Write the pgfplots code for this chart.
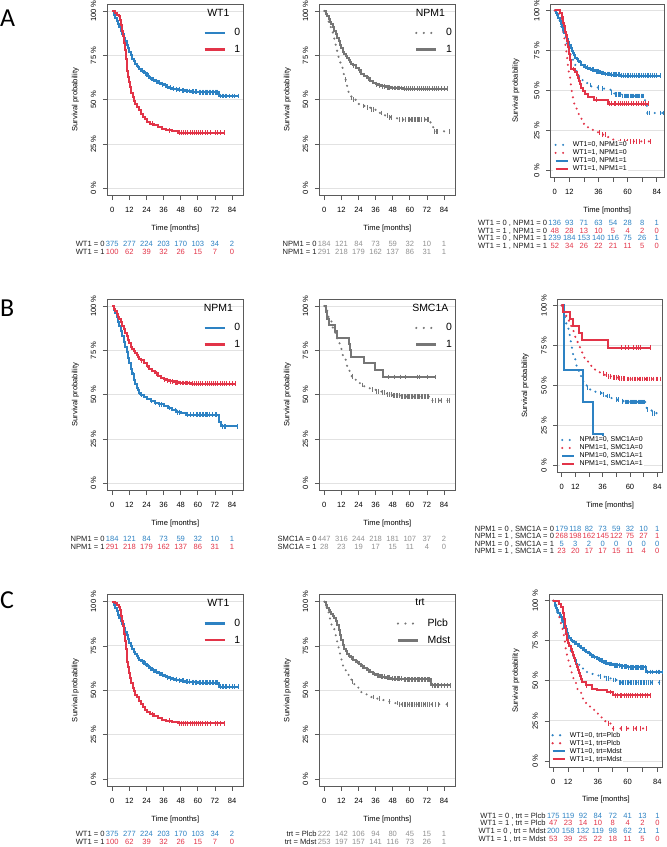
\documentclass[border=0pt]{standalone}
\usepackage{pgfplots}
\pgfplotsset{compat=1.18}
\usepackage{pgfplotstable}
\usepackage{fontspec}
\setmainfont{Liberation Sans}
\newfontfamily\letterfont{Carlito}
\definecolor{kmblue}{RGB}{45,130,195}
\definecolor{kmred}{RGB}{226,52,72}
\definecolor{kmgray}{RGB}{118,118,118}
\definecolor{rgray}{RGB}{145,145,145}
\definecolor{axc}{RGB}{90,90,90}
\definecolor{gridc}{RGB}{226,226,226}
\definecolor{txt}{RGB}{30,30,30}
\newcommand{\smallf}{\fontsize{7.6}{9}\selectfont}
\newcommand{\legf}{\fontsize{10.5}{12}\selectfont}
\newcommand{\tinyf}{\fontsize{7}{8}\selectfont}
\newcommand{\riskrow}[6]{%
  \node[anchor=mid east, inner sep=0pt, font=\smallf, text=txt] at ({#1-7.5},{-#3}) {#4};
  \foreach \v [count=\i from 0] in {#6} {\node[anchor=mid, inner sep=0pt, font=\smallf, text=#5] at ({#1+#2*\i},{-#3}) {\v};}
}
\tikzset{
  solidl/.style={line width=2.5bp},
  dotl/.style={line width=2.3bp, dash pattern=on 0pt off 7.5bp, line cap=round},
}
\pgfplotsset{
  kmbase/.style={
    scale only axis, ymin=-0.04, ymax=1.04,
    axis line style={draw=axc, line width=0.75bp},
    xtick={0,12,24,36,48,60,72,84},
    ytick={0,0.25,0.5,0.75,1},
    yticklabels={0 \%,25 \%,50 \%,75 \%,100 \%},
    tick align=outside, xtick pos=left, ytick pos=left,
    major tick length=4.5bp,
    tick style={draw=axc, line width=0.75bp},
    ymajorgrids, grid style={draw=gridc, line width=1bp},
    tick label style={font=\smallf},
    yticklabel style={rotate=90, anchor=south},
    yticklabel shift=3bp, xticklabel shift=4bp,
    xlabel={Time [months]}, ylabel={Survival probability},
    label style={font=\smallf},
    xlabel style={at={(axis description cs:0.5,0)}, anchor=center, yshift=-33.5bp},
    ylabel style={anchor=center},
    anchor=north west,
  },
  kmleft/.style={kmbase, width=136bp, height=191.5bp, xmin=-3.5, xmax=91.9,
    xticklabels={0,12,24,36,48,60,72,84},
    ylabel style={at={(axis description cs:-0.235,0.5)}}},
  kmright/.style={kmbase, height=173.1bp, xticklabels={0,12,,36,,60,,84}},
  kmcurve/.style={const plot, no markers, forget plot, line width=2bp},
  kmdot/.style={const plot, no markers, forget plot, line width=2.3bp, dash pattern=on 0pt off 7.5bp, line cap=round},
  kmcens/.style={only marks, mark=|, mark size=2.4bp, mark options={solid, line width=0.8bp}, forget plot},
  biglegend/.style 2 args={legend style={at={(axis description cs:#1,#2)}, anchor=north west, draw=none, fill=none, inner sep=0pt, outer sep=0pt, font=\legf, row sep=8bp, column sep=8.5bp, nodes={inner sep=0pt}}, legend cell align=left, legend image code/.code={\draw[##1] (0bp,0bp) -- (20bp,0bp);}},
  smalllegend/.style 2 args={legend style={at={(axis description cs:#1,#2)}, anchor=south west, draw=none, fill=white, inner sep=1pt, outer sep=0pt, font=\tinyf, row sep=1.6bp, column sep=4bp, nodes={inner sep=0pt, text height=5.2bp, text depth=1.2bp}}, legend cell align=left, legend image code/.code={\draw[##1] (0bp,0bp) -- (12bp,0bp);}},
}
% ---------------- data ----------------
\pgfplotstableread{
t S
0 1
1 0.98
2 0.962
3 0.945
4 0.926
5 0.908
6 0.89
7 0.871
8 0.851
9 0.831
10 0.81
11 0.79
12 0.768
13 0.75
14 0.732
15 0.716
16 0.703
17 0.692
18 0.682
19 0.673
20 0.664
22 0.649
24 0.635
26 0.623
28 0.613
30 0.604
32 0.596
34 0.588
36 0.581
38 0.574
40 0.568
42 0.563
44 0.559
46 0.556
48 0.553
51 0.549
55 0.545
60 0.543
75 0.521
88.5 0.521
}\WTzero
\pgfplotstableread{
t S
21 0.664
23 0.649
25 0.635
27 0.623
29 0.613
31 0.604
33 0.596
35 0.588
37 0.581
39 0.574
41 0.568
43 0.563
45 0.559
47 0.556
49 0.553
50 0.553
52 0.549
53 0.549
54 0.549
56 0.545
57 0.545
58 0.545
59 0.545
61 0.543
62 0.543
63 0.543
64 0.543
65 0.543
66 0.543
67 0.543
68 0.543
69 0.543
70 0.543
71 0.543
72 0.543
73 0.543
74 0.543
76 0.521
77 0.521
78 0.521
79 0.521
80 0.521
82 0.521
84 0.521
86 0.521
88.5 0.521
}\WTzeroC
\pgfplotstableread{
t S
0 1
2 0.99
3.5 0.98
4.5 0.97
5.5 0.95
6.3 0.92
7 0.89
7.6 0.86
8.2 0.82
8.8 0.78
9.4 0.73
10 0.69
10.6 0.66
11.2 0.63
11.8 0.6
12.5 0.57
13.3 0.54
14.2 0.515
15 0.495
16 0.475
17 0.46
18.5 0.44
20 0.42
21.5 0.405
23 0.39
24.5 0.375
26.5 0.365
29 0.355
32 0.345
35 0.335
38 0.328
42 0.321
46 0.314
78.6 0.314
}\WTone
\pgfplotstableread{
t S
28 0.365
40 0.328
47 0.314
48.5 0.314
50 0.314
51.5 0.314
53 0.314
54.5 0.314
56 0.314
57.5 0.314
59 0.314
60.5 0.314
62 0.314
63.5 0.314
65 0.314
66.5 0.314
69 0.314
72 0.314
74 0.314
76 0.314
78.6 0.314
}\WToneC
\pgfplotstableread{
t S
0 1
1 0.98
2 0.96
3 0.94
4 0.91
5 0.89
6 0.86
7 0.83
8 0.8
9 0.77
10 0.74
11 0.71
12 0.68
13 0.645
14 0.615
15 0.585
16 0.56
17 0.54
18 0.525
19 0.51
20 0.5
22 0.487
24 0.476
27 0.465
30 0.455
33 0.446
36 0.437
39 0.425
42 0.412
45 0.402
48 0.395
52 0.388
74.5 0.345
76.5 0.322
88.4 0.322
}\NPMzero
\pgfplotstableread{
t S
14.5 0.615
19.3 0.51
20.5 0.5
27.5 0.465
30.5 0.455
33.2 0.446
34.5 0.446
40 0.425
44 0.412
46 0.402
47 0.402
53 0.388
55 0.388
57 0.388
59 0.388
60 0.388
61 0.388
62 0.388
63 0.388
64 0.388
65 0.388
66 0.388
67 0.388
68 0.388
70 0.388
72 0.388
73 0.388
77 0.322
78.5 0.322
79.5 0.322
87.5 0.322
}\NPMzeroC
\pgfplotstableread{
t S
0 1
1 0.985
2 0.97
3 0.955
4 0.94
5 0.925
6 0.91
7 0.89
8 0.87
9 0.85
10 0.83
11 0.81
12 0.79
13 0.772
14 0.757
15 0.745
16 0.733
17 0.722
18 0.712
19 0.703
20 0.695
22 0.68
24 0.665
26 0.648
28 0.634
30 0.62
32 0.607
34 0.597
36 0.588
38 0.581
40 0.576
43 0.571
47 0.566
55 0.562
86.2 0.562
}\NPMone
\pgfplotstableread{
t S
17.5 0.722
20.5 0.695
24.5 0.665
31 0.62
36.5 0.588
38.5 0.581
41 0.576
42 0.576
44 0.571
45 0.571
46 0.571
48 0.566
49 0.566
50 0.566
51 0.566
52 0.566
53 0.566
54 0.566
56 0.562
57.5 0.562
59 0.562
60.5 0.562
62 0.562
63.5 0.562
65 0.562
66.5 0.562
68 0.562
69.5 0.562
71 0.562
72.5 0.562
74 0.562
75.5 0.562
77 0.562
78.5 0.562
80 0.562
82 0.562
84 0.562
86.2 0.562
}\NPMoneC
% A3
\pgfplotstableread{
t S
0 1
1 0.98
2 0.96
3 0.94
4 0.92
5 0.9
6 0.88
7 0.86
8 0.835
9 0.81
10 0.785
11 0.76
12 0.74
13 0.72
14 0.7
15 0.68
16 0.66
17 0.64
18 0.62
19 0.6
20 0.585
22 0.565
24 0.547
27 0.535
30 0.526
34 0.519
38 0.512
43 0.505
46 0.49
49 0.476
55 0.466
74 0.44
75.8 0.36
89.5 0.36
}\AzZ
\pgfplotstableread{
t S
29 0.535
36 0.519
39 0.512
47 0.49
50 0.476
51 0.476
52 0.476
53 0.476
54 0.476
56 0.466
57 0.466
58 0.466
59 0.466
60 0.466
61 0.466
62 0.466
63 0.466
64 0.466
65 0.466
66 0.466
67 0.466
68 0.466
69 0.466
70 0.466
71 0.466
72 0.466
73 0.466
76.5 0.36
78 0.36
87 0.36
89.5 0.36
}\AzZC
\pgfplotstableread{
t S
0 1
3 0.979
4.4 0.958
5.5 0.938
6.3 0.896
7.1 0.854
7.9 0.813
8.7 0.771
9.5 0.729
10.2 0.688
10.8 0.646
11.5 0.604
12.1 0.583
12.6 0.542
13.2 0.5
14 0.458
15 0.438
16 0.417
17 0.396
18 0.375
19 0.354
20.5 0.333
22 0.313
24 0.292
26.5 0.271
29 0.255
33 0.24
38 0.225
43 0.21
47 0.195
49 0.183
78.5 0.183
}\AoZ
\pgfplotstableread{
t S
37 0.24
39 0.225
42 0.225
54 0.183
57 0.183
60 0.183
62 0.183
65 0.183
67 0.183
70 0.183
74 0.183
78.5 0.183
}\AoZC
\pgfplotstableread{
t S
0 1
1 0.985
2 0.97
3 0.952
4 0.935
5 0.915
6 0.897
7 0.88
8 0.86
9 0.84
10 0.82
11 0.8
12 0.783
13 0.765
14 0.747
15 0.733
16 0.72
17 0.706
18 0.694
19 0.684
20 0.676
22 0.662
24 0.65
26 0.642
28 0.635
30 0.629
33 0.62
37 0.61
41 0.603
46 0.598
54 0.593
86.8 0.593
}\AzO
\pgfplotstableread{
t S
21 0.676
25 0.65
27 0.642
29 0.635
31 0.629
32 0.629
34 0.62
35 0.62
36 0.62
38 0.61
39 0.61
40 0.61
42 0.603
43 0.603
44 0.603
45 0.603
47 0.598
48 0.598
49 0.598
50 0.598
51 0.598
52 0.598
53 0.598
55 0.593
56.5 0.593
58 0.593
59.5 0.593
61 0.593
62.5 0.593
64 0.593
65.5 0.593
67 0.593
68.5 0.593
70 0.593
71.5 0.593
73 0.593
74.5 0.593
76 0.593
77.5 0.593
79 0.593
80.5 0.593
82 0.593
84 0.593
86.8 0.593
}\AzOC
\pgfplotstableread{
t S
0 1
4.4 0.981
5.6 0.962
6.4 0.942
7 0.923
7.6 0.904
8.2 0.885
8.8 0.865
9.4 0.846
10 0.827
10.4 0.808
10.8 0.788
11.2 0.769
11.6 0.75
12 0.731
12.4 0.712
12.8 0.692
13.2 0.654
13.6 0.635
17 0.615
18.3 0.596
19.2 0.577
20.2 0.558
21 0.538
22 0.519
23.3 0.5
25 0.481
27.5 0.462
32 0.443
44 0.418
77.2 0.418
}\AoO
\pgfplotstableread{
t S
15 0.635
34 0.443
45 0.418
47 0.418
49 0.418
50 0.418
52 0.418
54 0.418
55.5 0.418
57 0.418
59 0.418
61 0.418
63 0.418
65 0.418
67 0.418
69 0.418
71 0.418
73 0.418
75 0.418
77.2 0.418
}\AoOC
% B2
\pgfplotstableread{
t S
0 1
1 0.975
2 0.955
3 0.935
4 0.915
5 0.893
6 0.872
7 0.85
8 0.83
9 0.81
10 0.79
11 0.77
12 0.748
13 0.722
14 0.7
15 0.675
16 0.655
17 0.635
18 0.618
19 0.605
20 0.595
22 0.58
24 0.566
26 0.555
28 0.545
30 0.537
33 0.528
36 0.52
40 0.512
44 0.503
48 0.496
53 0.49
74.5 0.468
88 0.468
}\SMCzero
\pgfplotstableread{
t S
19.5 0.605
26.5 0.555
34 0.528
36.5 0.52
38 0.52
40.5 0.512
42 0.512
44.5 0.503
46 0.503
47 0.503
48.5 0.496
49.5 0.496
50.5 0.496
51.5 0.496
52.5 0.496
54 0.49
55 0.49
56 0.49
57 0.49
58 0.49
59 0.49
60 0.49
61 0.49
62 0.49
63 0.49
64 0.49
65 0.49
66 0.49
67 0.49
68 0.49
69 0.49
70 0.49
71 0.49
72 0.49
73 0.49
76 0.468
78 0.468
80 0.468
82 0.468
86 0.468
88 0.468
}\SMCzeroC
\pgfplotstableread{
t S
0 1
1.2 0.964
2 0.929
3 0.893
7.5 0.857
8.7 0.821
17 0.786
18.2 0.75
18.8 0.714
27.5 0.677
35.7 0.638
41 0.6
78 0.6
}\SMCone
\pgfplotstableread{
t S
45 0.6
49.5 0.6
53.5 0.6
57 0.6
65.5 0.6
66.5 0.6
72 0.6
78 0.6
}\SMConeC
% B3
\pgfplotstableread{
t S
0 1
1 0.965
2 0.935
3 0.905
4 0.88
5 0.855
6 0.825
7 0.79
8 0.757
9 0.725
10 0.695
11 0.67
12 0.647
13 0.625
14 0.603
15 0.583
16 0.562
17 0.545
18 0.53
19 0.515
20 0.502
22 0.485
25 0.474
28 0.462
31 0.453
35 0.445
39 0.435
43 0.422
47 0.412
52 0.403
55 0.398
74.7 0.35
79 0.328
88.8 0.328
}\BzZ
\pgfplotstableread{
t S
22.5 0.485
34 0.453
36.5 0.445
40 0.435
42 0.435
48 0.412
50 0.412
53 0.403
56 0.398
57 0.398
58 0.398
59 0.398
60 0.398
61 0.398
62 0.398
63 0.398
64 0.398
65 0.398
66 0.398
67 0.398
68 0.398
69 0.398
70 0.398
71 0.398
72 0.398
73 0.398
75.5 0.35
80 0.328
81.5 0.328
88.8 0.328
}\BzZC
\pgfplotstableread{
t S
0 1
1 0.98
2 0.965
3 0.95
4 0.935
5 0.92
6 0.905
7 0.89
8 0.872
9 0.856
10 0.84
11 0.82
12 0.8
13 0.78
14 0.762
15 0.745
16 0.728
17 0.712
18 0.697
19 0.683
20 0.67
22 0.65
24 0.632
26 0.614
28 0.6
30 0.59
32 0.583
34 0.576
37 0.567
40 0.558
44 0.55
50 0.545
57 0.541
86.4 0.541
}\BoZ
\pgfplotstableread{
t S
36.6 0.576
39.5 0.567
41 0.558
43 0.558
45 0.55
46.5 0.55
48 0.55
49.5 0.55
51 0.545
52.5 0.545
54 0.545
55.5 0.545
57.5 0.541
59 0.541
60.5 0.541
62 0.541
63.5 0.541
65 0.541
66.5 0.541
68 0.541
69.5 0.541
71 0.541
72.5 0.541
74 0.541
75.5 0.541
77 0.541
79 0.541
81 0.541
83 0.541
84.5 0.541
86.4 0.541
}\BoZC
\pgfplotstableread{
t S
0 1
2.3 0.6
19 0.4
27.2 0.2
36 0
}\BzO
\pgfplotstableread{
t S
0 1
1.5 0.957
7.3 0.913
10.3 0.87
15.5 0.826
17.6 0.783
41 0.735
77.6 0.735
}\BoO
\pgfplotstableread{
t S
52.7 0.735
55.7 0.735
58.6 0.735
63 0.735
65.9 0.735
67.4 0.735
68.8 0.735
77.6 0.735
}\BoOC
% C2
\pgfplotstableread{
t S
0 1
1 0.98
2 0.965
3 0.952
4 0.942
5 0.93
6 0.918
7 0.905
8 0.89
9 0.868
10 0.84
11 0.812
12 0.785
13 0.758
14 0.735
15 0.72
16 0.706
17 0.695
18 0.686
20 0.671
22 0.659
24 0.647
26 0.636
28 0.625
30 0.613
32 0.601
34 0.592
36 0.585
39 0.576
43 0.57
47 0.566
55 0.561
74.9 0.528
88.5 0.528
}\Mdst
\pgfplotstableread{
t S
19 0.686
23 0.659
27 0.636
31 0.613
35 0.592
37 0.585
38 0.585
40 0.576
41 0.576
42 0.576
44 0.57
45 0.57
46 0.57
48 0.566
49 0.566
50 0.566
51 0.566
52 0.566
53 0.566
54 0.566
56 0.561
57 0.561
58 0.561
59 0.561
60 0.561
61 0.561
62 0.561
63 0.561
64 0.561
65 0.561
66 0.561
67 0.561
68 0.561
69 0.561
70 0.561
71 0.561
72 0.561
73 0.561
74 0.561
76 0.528
77 0.528
78 0.528
79 0.528
80 0.528
82 0.528
84 0.528
86 0.528
88.5 0.528
}\MdstC
\pgfplotstableread{
t S
0 1
1 0.97
2 0.94
3 0.915
4 0.892
5 0.868
6 0.845
7 0.815
8 0.785
9 0.755
10 0.722
11 0.69
12 0.665
13 0.64
14 0.62
15 0.602
16 0.587
17 0.573
18 0.56
19 0.548
20 0.535
22 0.515
24 0.498
26 0.486
28 0.477
30 0.47
33 0.462
37 0.453
41 0.445
45 0.436
49 0.428
52 0.421
86.2 0.421
}\Plcb
\pgfplotstableread{
t S
19.5 0.548
34.5 0.462
38.7 0.453
45.5 0.436
51 0.428
53 0.421
54.5 0.421
56 0.421
57 0.421
58 0.421
59.5 0.421
61 0.421
62 0.421
63 0.421
64.5 0.421
66 0.421
67 0.421
68 0.421
69.5 0.421
71 0.421
72.5 0.421
74 0.421
76 0.421
78 0.421
80 0.421
86.2 0.421
}\PlcbC
% C3
\pgfplotstableread{
t S
0 1
1 0.975
2 0.955
3 0.94
4 0.925
5 0.912
6 0.897
7 0.882
8 0.866
9 0.845
10 0.822
11 0.8
12 0.782
13 0.767
14 0.756
15 0.747
16 0.741
18 0.73
20 0.719
22 0.707
24 0.694
26 0.682
28 0.672
30 0.66
32 0.649
35 0.637
38 0.626
41 0.614
44 0.605
48 0.597
54 0.59
60 0.585
74.9 0.555
88.3 0.555
}\CzM
\pgfplotstableread{
t S
17 0.741
21 0.719
25 0.694
29 0.672
31 0.66
33 0.649
36 0.637
37 0.637
39 0.626
40 0.626
42 0.614
43 0.614
45 0.605
46 0.605
47 0.605
49 0.597
50 0.597
51 0.597
52 0.597
53 0.597
55 0.59
56 0.59
57 0.59
58 0.59
59 0.59
61 0.585
62 0.585
63 0.585
64 0.585
65 0.585
66 0.585
67 0.585
68 0.585
69 0.585
70 0.585
71 0.585
72 0.585
73 0.585
74 0.585
76 0.555
78 0.555
80 0.555
83 0.555
85 0.555
86 0.555
88.3 0.555
}\CzMC
\pgfplotstableread{
t S
0 1
4.8 0.981
6.5 0.962
7.5 0.943
8.1 0.925
8.5 0.906
8.8 0.887
9.1 0.868
9.4 0.849
9.7 0.83
10 0.811
10.3 0.792
10.7 0.774
11.2 0.755
12 0.736
13 0.717
14 0.698
15 0.679
15.8 0.66
16.6 0.642
17.4 0.623
18.2 0.604
19 0.585
19.8 0.566
20.6 0.547
21.5 0.528
22.5 0.509
23.5 0.49
26 0.472
31 0.452
35 0.442
43 0.431
48.5 0.41
78.1 0.41
}\CoM
\pgfplotstableread{
t S
27 0.472
46 0.431
50 0.41
52 0.41
54 0.41
55 0.41
57 0.41
59 0.41
61 0.41
62 0.41
64 0.41
66 0.41
68 0.41
70 0.41
72 0.41
74 0.41
76 0.41
78.1 0.41
}\CoMC
\pgfplotstableread{
t S
0 1
1 0.965
2 0.945
3 0.925
4 0.907
5 0.888
6 0.869
7 0.85
8 0.83
9 0.81
10 0.787
11 0.76
12 0.733
13 0.71
14 0.688
15 0.667
16 0.65
17 0.635
18 0.622
20 0.6
22 0.583
24 0.57
27 0.555
30 0.543
33 0.533
37 0.525
42 0.515
47 0.505
52 0.49
85.6 0.49
}\CzP
\pgfplotstableread{
t S
18.5 0.622
37.7 0.525
43 0.515
44.5 0.515
48.5 0.505
50 0.505
53 0.49
54.3 0.49
55.6 0.49
56.9 0.49
58.2 0.49
59.5 0.49
60.8 0.49
62.1 0.49
63.4 0.49
64.7 0.49
66 0.49
67.3 0.49
68.6 0.49
69.9 0.49
71.2 0.49
72.5 0.49
73.8 0.49
75.1 0.49
76.4 0.49
78 0.49
80 0.49
85.6 0.49
}\CzPC
\pgfplotstableread{
t S
0 1
1.5 0.979
2.5 0.957
3.5 0.936
4.3 0.915
4.9 0.894
5.5 0.872
6.1 0.851
6.8 0.83
7.4 0.809
8 0.787
8.5 0.766
9 0.745
9.5 0.723
10 0.702
10.5 0.681
11 0.66
11.6 0.638
12.3 0.617
13 0.596
13.7 0.574
14.5 0.553
15.3 0.532
16.2 0.511
17.2 0.489
18.3 0.468
19.5 0.447
21 0.426
22.5 0.404
24 0.383
26 0.362
28 0.34
30.5 0.319
33 0.298
36 0.277
39 0.255
42 0.234
47 0.203
75.4 0.203
}\CoP
\pgfplotstableread{
t S
44.4 0.234
48.5 0.203
55 0.203
59 0.203
64.6 0.203
67 0.203
70 0.203
75.4 0.203
}\CoPC
\begin{document}
\begin{tikzpicture}[x=1bp,y=1bp]
\path[use as bounding box] (0,0) rectangle (667,-847);
% panel letters
\node[anchor=base west, inner sep=0pt, font={\letterfont\fontsize{26}{26}\selectfont}] at (0,-26) {A};
\node[anchor=base west, inner sep=0pt, font={\letterfont\fontsize{26}{26}\selectfont}] at (0,-316.5) {B};
\node[anchor=base west, inner sep=0pt, font={\letterfont\fontsize{26}{26}\selectfont}] at (0,-608) {C};

% ================= A1 =================
\begin{axis}[kmleft, at={(107.3bp,-4bp)}, biglegend={0.706}{0.872}]
\addplot[kmcurve, kmblue] table {\WTzero};
\addplot[kmcens, kmblue] table {\WTzeroC};
\addplot[kmcurve, kmred] table {\WTone};
\addplot[kmcens, kmred] table {\WToneC};
\addlegendimage{kmblue, solidl}\addlegendentry{0}
\addlegendimage{kmred, solidl}\addlegendentry{1}
\end{axis}
\node[font=\legf] at (218.3,-12.5) {WT1};
\riskrow{112.29}{17.107}{244.3}{WT1 = 0}{kmblue}{375,277,224,203,170,103,34,2}
\riskrow{112.29}{17.107}{252.3}{WT1 = 1}{kmred}{100,62,39,32,26,15,7,0}

% ================= A2 =================
\begin{axis}[kmleft, at={(319.3bp,-4bp)}, biglegend={0.704}{0.872}]
\addplot[kmdot, kmgray] table {\NPMzero};
\addplot[kmcens, kmgray] table {\NPMzeroC};
\addplot[kmcurve, kmgray] table {\NPMone};
\addplot[kmcens, kmgray] table {\NPMoneC};
\addlegendimage{kmgray, dotl}\addlegendentry{0}
\addlegendimage{kmgray, solidl}\addlegendentry{1}
\end{axis}
\node[font=\legf] at (430.3,-12.5) {NPM1};
\riskrow{324.29}{17.107}{244.3}{NPM1 = 0}{rgray}{184,121,84,73,59,32,10,1}
\riskrow{324.29}{17.107}{252.3}{NPM1 = 1}{rgray}{291,218,179,162,137,86,31,1}

% ================= A3 =================
\begin{axis}[kmright, at={(550.5bp,-4bp)}, width=113.4bp, xmin=-3.5, xmax=89.9,
  ylabel style={at={(axis description cs:-0.304,0.5)}}, smalllegend={0.025}{0.023}]
\addplot[kmdot, kmblue] table {\AzZ};
\addplot[kmcens, kmblue] table {\AzZC};
\addplot[kmdot, kmred] table {\AoZ};
\addplot[kmcens, kmred] table {\AoZC};
\addplot[kmcurve, kmblue] table {\AzO};
\addplot[kmcens, kmblue] table {\AzOC};
\addplot[kmcurve, kmred] table {\AoO};
\addplot[kmcens, kmred] table {\AoOC};
\addlegendimage{kmblue, dotl}\addlegendentry{WT1=0, NPM1=0}
\addlegendimage{kmred, dotl}\addlegendentry{WT1=1, NPM1=0}
\addlegendimage{kmblue, solidl}\addlegendentry{WT1=0, NPM1=1}
\addlegendimage{kmred, solidl}\addlegendentry{WT1=1, NPM1=1}
\end{axis}
\riskrow{554.75}{14.57}{223.3}{WT1 = 0 , NPM1 = 0}{kmblue}{136,93,71,63,54,28,8,1}
\riskrow{554.75}{14.57}{230.7}{WT1 = 1 , NPM1 = 0}{kmred}{48,28,13,10,5,4,2,0}
\riskrow{554.75}{14.57}{238.3}{WT1 = 0 , NPM1 = 1}{kmblue}{239,184,153,140,116,75,26,1}
\riskrow{554.75}{14.57}{245.7}{WT1 = 1 , NPM1 = 1}{kmred}{52,34,26,22,21,11,5,0}

% ================= B1 =================
\begin{axis}[kmleft, at={(107.3bp,-299bp)}, biglegend={0.706}{0.872}]
\addplot[kmcurve, kmblue] table {\NPMzero};
\addplot[kmcens, kmblue] table {\NPMzeroC};
\addplot[kmcurve, kmred] table {\NPMone};
\addplot[kmcens, kmred] table {\NPMoneC};
\addlegendimage{kmblue, solidl}\addlegendentry{0}
\addlegendimage{kmred, solidl}\addlegendentry{1}
\end{axis}
\node[font=\legf] at (218.3,-307.5) {NPM1};
\riskrow{112.29}{17.107}{538.6}{NPM1 = 0}{kmblue}{184,121,84,73,59,32,10,1}
\riskrow{112.29}{17.107}{546.8}{NPM1 = 1}{kmred}{291,218,179,162,137,86,31,1}

% ================= B2 =================
\begin{axis}[kmleft, at={(319.3bp,-299bp)}, biglegend={0.704}{0.872}]
\addplot[kmdot, kmgray] table {\SMCzero};
\addplot[kmcens, kmgray] table {\SMCzeroC};
\addplot[kmcurve, kmgray] table {\SMCone};
\addplot[kmcens, kmgray] table {\SMConeC};
\addlegendimage{kmgray, dotl}\addlegendentry{0}
\addlegendimage{kmgray, solidl}\addlegendentry{1}
\end{axis}
\node[font=\legf] at (430.3,-307.5) {SMC1A};
\riskrow{324.29}{17.107}{538.6}{SMC1A = 0}{rgray}{447,316,244,218,181,107,37,2}
\riskrow{324.29}{17.107}{546.8}{SMC1A = 1}{rgray}{28,23,19,17,15,11,4,0}

% ================= B3 =================
\begin{axis}[kmright, at={(557.8bp,-299bp)}, width=104.9bp, xmin=-3.4, xmax=88.75,
  ylabel style={at={(axis description cs:-0.312,0.5)}}, smalllegend={0.021}{0.023}]
\addplot[kmdot, kmblue] table {\BzZ};
\addplot[kmcens, kmblue] table {\BzZC};
\addplot[kmdot, kmred] table {\BoZ};
\addplot[kmcens, kmred] table {\BoZC};
\addplot[kmcurve, kmblue] table {\BzO};
\addplot[kmcurve, kmred] table {\BoO};
\addplot[kmcens, kmred] table {\BoOC};
\addlegendimage{kmblue, dotl}\addlegendentry{NPM1=0, SMC1A=0}
\addlegendimage{kmred, dotl}\addlegendentry{NPM1=1, SMC1A=0}
\addlegendimage{kmblue, solidl}\addlegendentry{NPM1=0, SMC1A=1}
\addlegendimage{kmred, solidl}\addlegendentry{NPM1=1, SMC1A=1}
\end{axis}
\riskrow{561.67}{13.66}{528.7}{NPM1 = 0 , SMC1A = 0}{kmblue}{179,118,82,73,59,32,10,1}
\riskrow{561.67}{13.66}{536}{NPM1 = 1 , SMC1A = 0}{kmred}{268,198,162,145,122,75,27,1}
\riskrow{561.67}{13.66}{543.7}{NPM1 = 0 , SMC1A = 1}{kmblue}{5,3,2,0,0,0,0,0}
\riskrow{561.67}{13.66}{551}{NPM1 = 1 , SMC1A = 1}{kmred}{23,20,17,17,15,11,4,0}

% ================= C1 =================
\begin{axis}[kmleft, at={(107.3bp,-594.5bp)}, biglegend={0.706}{0.872}]
\addplot[kmcurve, kmblue] table {\WTzero};
\addplot[kmcens, kmblue] table {\WTzeroC};
\addplot[kmcurve, kmred] table {\WTone};
\addplot[kmcens, kmred] table {\WToneC};
\addlegendimage{kmblue, solidl}\addlegendentry{0}
\addlegendimage{kmred, solidl}\addlegendentry{1}
\end{axis}
\node[font=\legf] at (218.3,-603) {WT1};
\riskrow{112.29}{17.107}{834}{WT1 = 0}{kmblue}{375,277,224,203,170,103,34,2}
\riskrow{112.29}{17.107}{842.3}{WT1 = 1}{kmred}{100,62,39,32,26,15,7,0}

% ================= C2 =================
\begin{axis}[kmleft, at={(319.3bp,-594.5bp)}, biglegend={0.569}{0.872}]
\addplot[kmdot, kmgray] table {\Plcb};
\addplot[kmcens, kmgray] table {\PlcbC};
\addplot[kmcurve, kmgray] table {\Mdst};
\addplot[kmcens, kmgray] table {\MdstC};
\addlegendimage{kmgray, dotl}\addlegendentry{Plcb}
\addlegendimage{kmgray, solidl}\addlegendentry{Mdst}
\end{axis}
\node[font=\legf] at (420,-602.5) {trt};
\riskrow{324.29}{17.107}{834}{trt = Plcb}{rgray}{222,142,106,94,80,45,15,1}
\riskrow{324.29}{17.107}{842.3}{trt = Mdst}{rgray}{253,197,157,141,116,73,26,1}

% ================= C3 =================
\begin{axis}[kmright, at={(549bp,-594.3bp)}, width=113.8bp, xmin=-3.5, xmax=88.4,
  xlabel style={yshift=1.5bp},
  ylabel style={at={(axis description cs:-0.29,0.5)}}, smalllegend={0.012}{0.023}]
\addplot[kmdot, kmblue] table {\CzP};
\addplot[kmcens, kmblue] table {\CzPC};
\addplot[kmdot, kmred] table {\CoP};
\addplot[kmcens, kmred] table {\CoPC};
\addplot[kmcurve, kmblue] table {\CzM};
\addplot[kmcens, kmblue] table {\CzMC};
\addplot[kmcurve, kmred] table {\CoM};
\addplot[kmcens, kmred] table {\CoMC};
\addlegendimage{kmblue, dotl}\addlegendentry{WT1=0, trt=Plcb}
\addlegendimage{kmred, dotl}\addlegendentry{WT1=1, trt=Plcb}
\addlegendimage{kmblue, solidl}\addlegendentry{WT1=0, trt=Mdst}
\addlegendimage{kmred, solidl}\addlegendentry{WT1=1, trt=Mdst}
\end{axis}
\riskrow{553.33}{14.86}{815.7}{WT1 = 0 , trt = Plcb}{kmblue}{175,119,92,84,72,41,13,1}
\riskrow{553.33}{14.86}{823.3}{WT1 = 1 , trt = Plcb}{kmred}{47,23,14,10,8,4,2,0}
\riskrow{553.33}{14.86}{831}{WT1 = 0 , trt = Mdst}{kmblue}{200,158,132,119,98,62,21,1}
\riskrow{553.33}{14.86}{838.7}{WT1 = 1 , trt = Mdst}{kmred}{53,39,25,22,18,11,5,0}
\end{tikzpicture}
\end{document}
